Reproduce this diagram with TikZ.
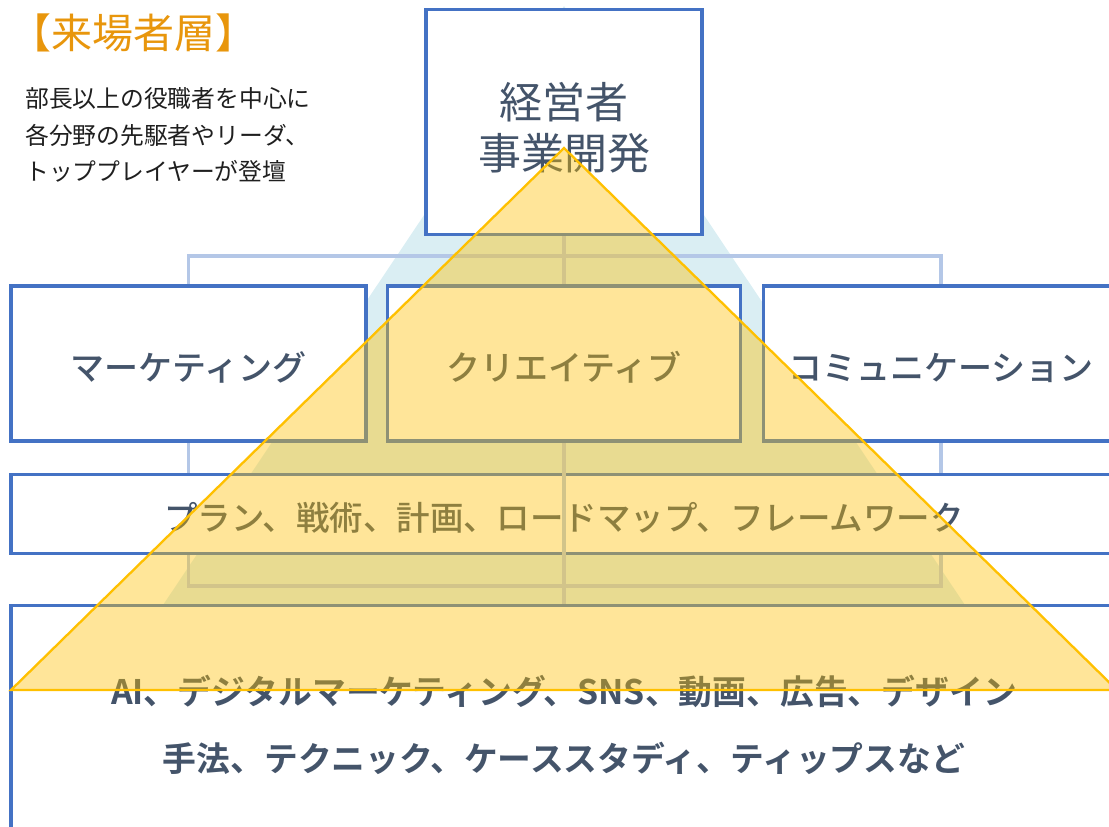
\documentclass[tikz,border=0pt]{standalone}
\usepackage{fontspec}
\setmainfont{Noto Sans CJK JP}[BoldFont={Noto Sans CJK JP Bold}]
\newfontfamily\jpmedium{Noto Sans CJK JP Medium}
\usetikzlibrary{backgrounds}
\definecolor{boxblue}{HTML}{4472C4}
\definecolor{linkblue}{HTML}{B4C7E7}
\definecolor{paleteal}{HTML}{DAEEF3}
\definecolor{pyramid}{HTML}{FFC000}
\definecolor{slate}{HTML}{44546A}
\definecolor{titleorange}{RGB}{232,150,12}
\begin{document}
\begin{tikzpicture}[x=1pt, y=-1pt,
        box/.style={draw=boxblue, line width=3.5pt, fill=white, text=slate, inner sep=0pt, align=center},
        link/.style={draw=linkblue, line width=3.5pt},
        fieldtext/.style={font=\jpmedium\fontsize{34}{40}\selectfont, text height=38pt, text depth=4pt}]
    \useasboundingbox (0, 0) rectangle (1109, 827);
    \node[anchor=west, text=titleorange, inner sep=0pt, font=\fontsize{41}{48}\selectfont] (title) at (10, 33) {【来場者層】};
    \node[anchor=west, align=left, inner sep=0pt, text=black!88, font=\fontsize{23.8}{36.7}\selectfont] (crowd) at (25, 135) {部長以上の役職者を中心に\\各分野の先駆者やリーダ、\\トッププレイヤーが登壇};
    \node[box, minimum width=276pt, minimum height=225pt, font=\fontsize{43}{51}\selectfont] (top) at (564, 122) {\rule{0pt}{48pt}経営者\\事業開発};
    \node[box, fieldtext, minimum width=355pt, minimum height=155pt] (mkt) at (188.5, 363.5) {マーケティング};
    \node[box, fieldtext, minimum width=353pt, minimum height=155pt] (crt) at (564, 363.5) {クリエイティブ};
    \node[box, fieldtext, minimum width=355pt, minimum height=155pt] (com) at (941, 363.5) {コミュニケーション};
    \node[box, minimum width=1106pt, minimum height=238pt, font=\bfseries\fontsize{33.8}{67}\selectfont] (base) at (564, 724.5) {AI、デジタルマーケティング、SNS、動画、広告、デザイン\\手法、テクニック、ケーススタディ、ティップスなど};
    \coordinate (hub) at (564, 256);
    \coordinate (foot) at (564, 586);
    \begin{scope}[on background layer]
        \fill[paleteal] (564, 6) -- (975, 620) -- (153, 620) -- cycle;
        \draw[link] (mkt.north) |- (hub) -| (com.north);
        \draw[link] (mkt.south) |- (foot) -| (com.south);
        \node[box, fieldtext, font=\jpmedium\fontsize{33.5}{40}\selectfont, text height=36pt, minimum width=1106pt, minimum height=79pt] (plan) at (564, 514) {プラン、戦術、計画、ロードマップ、フレームワーク};
        \draw[link] (top.south) -- (base.north);
    \end{scope}
    % pyramid over everything
    \filldraw[fill=pyramid, fill opacity=0.4, draw=pyramid, line width=2.3pt] (564, 148) -- (1117, 690) -- (11, 690) -- cycle;
\end{tikzpicture}
\end{document}
